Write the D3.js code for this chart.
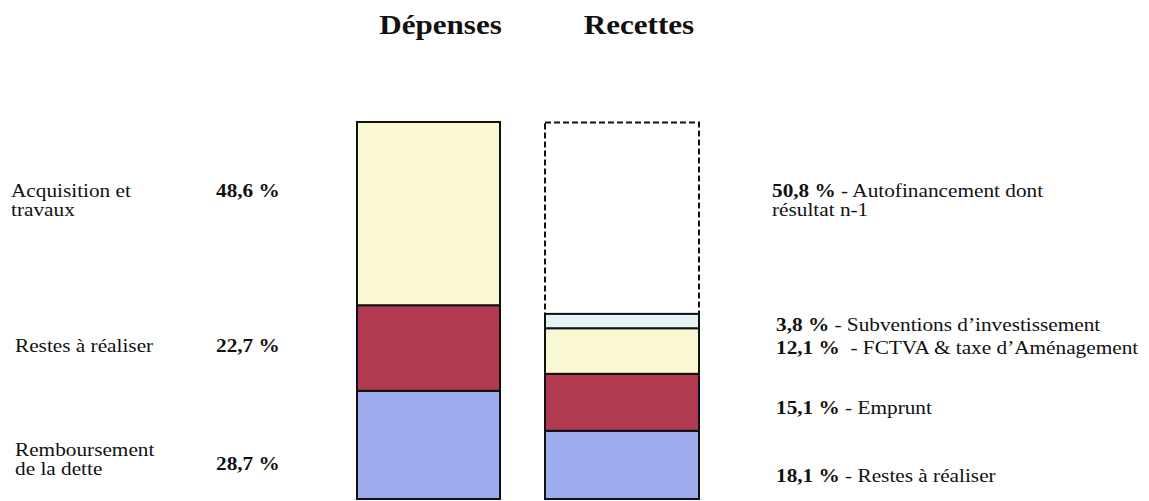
<!DOCTYPE html>
<html>
<head>
<meta charset="utf-8">
<script src="https://cdn.jsdelivr.net/npm/d3@7"></script>
<style>
  html, body { margin: 0; padding: 0; background: #fff; }
  svg { display: block; }
  text { font-family: "Liberation Serif", "Times New Roman", serif; fill: #111; white-space: pre; }
</style>
</head>
<body>
<svg id="chart" width="1149" height="501"></svg>
<script>
// Budget d'investissement : répartition des dépenses et des recettes (en %)
const columns = ["Dépenses", "Recettes"];

// Dépenses, empilées du bas vers le haut
const depenseLabels = ["Remboursement\nde la dette", "Restes à réaliser", "Acquisition et\ntravaux"];
const depenseValues = [28.7, 22.7, 48.6];

// Recettes, empilées du bas vers le haut
const recetteLabels = ["Restes à réaliser", "Emprunt", "FCTVA & taxe d’Aménagement", "Subventions d’investissement", "Autofinancement dont\nrésultat n-1"];
const recetteValues = [18.1, 15.1, 12.1, 3.8, 50.8];
const recetteSeparators = [" - ", " - ", "  - ", " - ", " - "];

// Couleurs des segments
const depenseColors = ["#9dadf0", "#b13a51", "#faf7d3"];
const recetteColors = ["#9dadf0", "#b13a51", "#faf7d3", "#e3f3f6", "#ffffff"];

// Mise en page des libellés (lignes de base)
const depenseLabelY = [456, 352, 197];
const depenseValueY = [470, 352, 197];
const depenseLabelX = [15, 15, 11];
const recetteLabelY = [482, 414, 354, 331, 197];
const recetteLabelX = [776, 776, 776, 776, 772];

const svg = d3.select("#chart");
const fr = d3.formatLocale({ decimal: ",", thousands: " ", grouping: [3], currency: ["", " €"] });
const pct = v => fr.format(".1f")(v) + " %";

const y = d3.scaleLinear().domain([0, 100]).range([499, 122]);
const x = d3.scaleBand().domain(columns).range([354.25, 696.25]).paddingInner(0.2326).paddingOuter(0);
// la colonne Recettes est un peu plus large que la colonne Dépenses
const widthAdjust = { "Dépenses": -5.5, "Recettes": 5.5 };
const titleShift = { "Dépenses": 12, "Recettes": 17 };

const sx = 1.12;   // léger étirement horizontal du texte
const lineH = 19;

const barX = col => x(col) - widthAdjust[col] / 2;
const barW = col => x.bandwidth() + widthAdjust[col];

// Titres
svg.selectAll("text.title").data(columns).join("text")
  .attr("class", "title")
  .attr("transform", d => `translate(${x(d) + x.bandwidth() / 2 + titleShift[d]},34) scale(1.11,1)`)
  .attr("text-anchor", "middle")
  .style("font-weight", "bold")
  .style("font-size", "28px")
  .text(d => d);

function stackSegments(values) {
  const ends = d3.cumsum(values);
  return values.map((v, i) => ({ i, v, y0: ends[i] - v, y1: ends[i] }));
}

// Colonne Dépenses
const depSeg = stackSegments(depenseValues);
svg.append("g").selectAll("rect").data(depSeg).join("rect")
  .attr("x", barX("Dépenses"))
  .attr("width", barW("Dépenses"))
  .attr("y", d => y(d.y1))
  .attr("height", d => y(d.y0) - y(d.y1))
  .attr("fill", d => depenseColors[d.i])
  .attr("stroke", "#111")
  .attr("stroke-width", 2);

// Colonne Recettes (autofinancement en pointillés)
const recSeg = stackSegments(recetteValues);
const gRec = svg.append("g");
gRec.selectAll("rect").data(recSeg).join("rect")
  .attr("x", barX("Recettes"))
  .attr("width", barW("Recettes"))
  .attr("y", d => y(d.y1))
  .attr("height", d => y(d.y0) - y(d.y1))
  .attr("fill", d => recetteColors[d.i])
  .attr("stroke", "#111")
  .attr("stroke-width", 2)
  .attr("stroke-dasharray", d => d.i === recetteValues.length - 1 ? "6,3" : null);
// le trait plein du segment sous l'autofinancement repasse par-dessus le pointillé
gRec.selectAll("rect").filter(d => d.i === recetteValues.length - 2).raise();

// Libellés à gauche (Dépenses)
const gLeft = svg.append("g");
depenseLabels.forEach((label, i) => {
  const t = gLeft.append("text")
    .attr("transform", `translate(${depenseLabelX[i]},${depenseLabelY[i]}) scale(${sx},1)`)
    .style("font-size", "19px");
  label.split("\n").forEach((line, k) => {
    t.append("tspan").attr("x", 0).attr("y", k * lineH).text(line);
  });
  gLeft.append("text")
    .attr("transform", `translate(216,${depenseValueY[i]}) scale(${sx},1)`)
    .style("font-size", "19px")
    .style("font-weight", "bold")
    .text(pct(depenseValues[i]));
});

// Libellés à droite (Recettes)
const gRight = svg.append("g");
recetteLabels.forEach((label, i) => {
  const t = gRight.append("text")
    .attr("transform", `translate(${recetteLabelX[i]},${recetteLabelY[i]}) scale(${sx},1)`)
    .style("font-size", "19px");
  const lines = label.split("\n");
  const first = t.append("tspan").attr("x", 0).attr("y", 0);
  first.append("tspan").style("font-weight", "bold").text(pct(recetteValues[i]));
  first.append("tspan").text(recetteSeparators[i] + lines[0]);
  lines.slice(1).forEach((line, k) => {
    t.append("tspan").attr("x", 0).attr("y", (k + 1) * lineH).text(line);
  });
});
</script>
</body>
</html>
